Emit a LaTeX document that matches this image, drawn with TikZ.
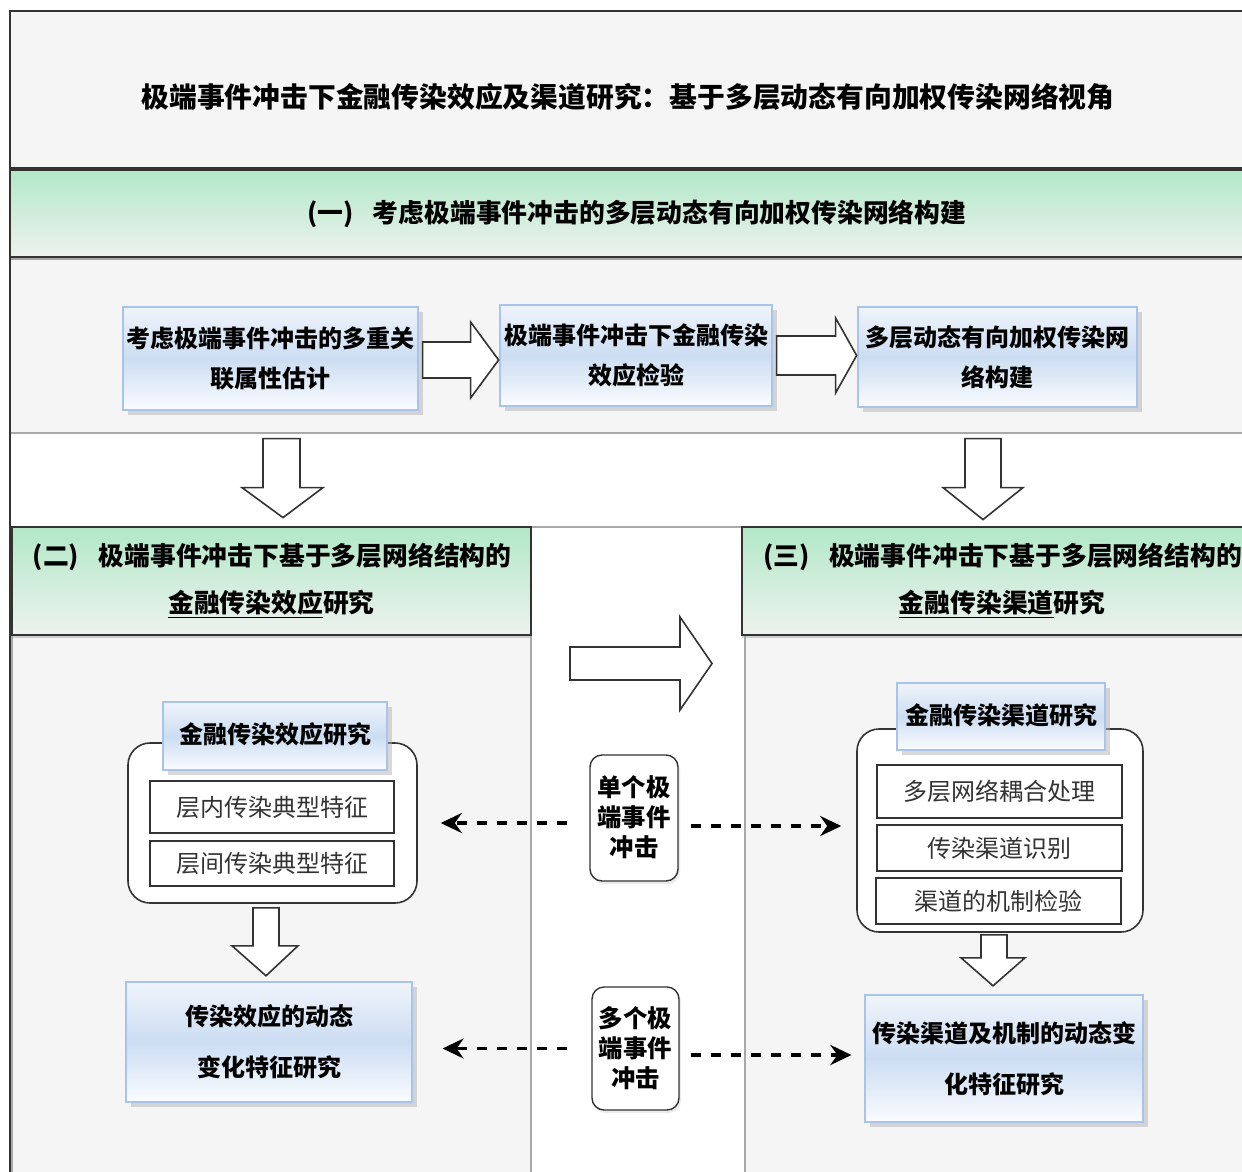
\documentclass[tikz,border=0pt]{standalone}
\usepackage{fontspec}
\setmainfont{Noto Sans CJK SC}
\usetikzlibrary{arrows.meta,calc,shadows}
\definecolor{bg}{HTML}{F5F5F5}
\definecolor{dark}{HTML}{333333}
\definecolor{pline}{HTML}{A8A8A8}
\definecolor{gtop}{HTML}{B2E8C8}
\definecolor{gbot}{HTML}{EEF2EE}
\definecolor{bltop}{HTML}{EFF4FB}
\definecolor{blmid}{HTML}{CCDDF2}
\definecolor{blbot}{HTML}{FAFCFF}
\definecolor{bledge}{HTML}{A9C4EA}
\newcommand{\secnum}[1]{\makebox[0.45em][r]{(}#1\makebox[1.15em][l]{)}}
\begin{document}
\begin{tikzpicture}[x=0.5pt,y=-0.5pt,
  gband/.style={draw=dark,line width=0.9pt,top color=gtop,bottom color=gbot,
    drop shadow={shadow xshift=0pt,shadow yshift=-1.5pt,fill=black!35},
    inner sep=0pt,align=center,font=\fontsize{12.9pt}{23.5pt}\selectfont\bfseries},
  gloss/.style={draw=bledge,line width=0.6pt,top color=bltop,bottom color=blbot,middle color=blmid,
    drop shadow={shadow xshift=2.5pt,shadow yshift=-2.5pt,fill=black!30},
    inner sep=0pt,align=center,font=\fontsize{12pt}{20pt}\selectfont\bfseries},
  group/.style={draw=dark,fill=white,rounded corners=11pt,line width=0.8pt,inner sep=0pt},
  item/.style={draw=dark,fill=white,line width=0.8pt,inner sep=0pt,text=black!80,
    font=\fontsize{12pt}{14pt}\selectfont},
  event/.style={draw=dark,fill=white,rounded corners=6pt,line width=0.7pt,inner sep=0pt,
    drop shadow={shadow xshift=1pt,shadow yshift=-1.5pt,fill=black!15},
    align=center,font=\fontsize{12.2pt}{15pt}\selectfont\bfseries},
  dasharrow/.style={line width=1.8pt,dash pattern=on 5pt off 5pt,
    -{Stealth[length=10.5pt,width=10pt,inset=3.5pt]}},
  barrow/.style={draw=dark,fill=white,line width=0.8pt,line join=miter},
  panel/.style={draw=pline,line width=0.8pt}
]
\useasboundingbox (0,0) rectangle (1242,1172);
\clip (0,0) rectangle (1242,1172);
\fill[white] (0,0) rectangle (1242,1172);

% frame and title area
\draw[dark,line width=1pt,fill=white] (10,11) rectangle (1262,1190);
\draw[dark,line width=1pt,fill=bg] (10,11) rectangle (1262,168);
\node[font=\fontsize{13.9pt}{16pt}\selectfont\bfseries] (title) at (628,97)
  {极端事件冲击下金融传染效应及渠道研究：基于多层动态有向加权传染网络视角};

% section 1
\draw[panel,fill=bg] (10,259) rectangle (1262,433);
\node[gband,minimum width=626pt,minimum height=43.5pt] (band1) at (636,213.5)
  {\secnum{一}考虑极端事件冲击的多层动态有向加权传染网络构建};

\node[gloss,minimum width=147.5pt,minimum height=51.5pt] (b1) at (270.5,358.5)
  {考虑极端事件冲击的多重关\\联属性估计};
\node[gloss,minimum width=136pt,minimum height=50.5pt] (b2) at (636,355.5)
  {极端事件冲击下金融传染\\效应检验};
\node[gloss,minimum width=139.5pt,minimum height=50pt] (b3) at (997.5,357)
  {多层动态有向加权传染网\\络构建};

\draw[barrow] ($(b1.east)+(4,-16.5)$) -- ++(48,0) -- ++(0,-20) -- ++(28,38) -- ++(-28,38) -- ++(0,-20) -- ++(-48,0) -- cycle;
\draw[barrow] ($(b2.east)+(4,-19.5)$) -- ++(59,0) -- ++(0,-18) -- ++(21,37.5) -- ++(-21,37.5) -- ++(0,-18) -- ++(-59,0) -- cycle;

% down arrows from section 1
\draw[barrow] ($(b1.south)+(-7.5,28)$) -- ++(37,0) -- ++(0,49) -- ++(23,0) -- ++(-40,30) -- ++(-41,-30) -- ++(21,0) -- cycle;
\draw[barrow] ($(b3.south)+(-32.5,31)$) -- ++(36,0) -- ++(0,49) -- ++(22,0) -- ++(-40,32) -- ++(-40,-32) -- ++(22,0) -- cycle;

% lower panels
\draw[panel,fill=bg] (12,635) rectangle (531,1190);
\draw[panel,fill=white] (531,527) rectangle (745,1190);
\draw[panel,fill=bg] (745,635) rectangle (1262,1190);

\node[gband,minimum width=259.5pt,minimum height=54pt] (band2) at (271.5,581)
  {\secnum{二}极端事件冲击下基于多层网络结构的\\\underline{金融传染效应}研究};
\node[gband,minimum width=260pt,minimum height=54pt] (band3) at (1002,581)
  {\secnum{三}极端事件冲击下基于多层网络结构的\\\underline{金融传染渠道}研究};

% middle arrow
\coordinate (ma) at (570,663.5);
\draw[barrow] ($(ma)+(0,-16.5)$) -- ++(110,0) -- ++(0,-30) -- ++(32,46.5) -- ++(-32,46.5) -- ++(0,-30) -- ++(-110,0) -- cycle;

% left group
\node[group,minimum width=144.5pt,minimum height=80pt] (lg) at (272.5,823) {};
\node[gloss,minimum width=112pt,minimum height=34pt] (lgh) at (275,736) {\raisebox{2.5pt}{金融传染效应研究}};
\node[item,minimum width=122pt,minimum height=26pt] (lg1) at (272,807) {层内传染典型特征};
\node[item,minimum width=122pt,minimum height=22.5pt] (lg2) at (272,863.5) {层间传染典型特征};
\draw[barrow] ($(lg.south)+(-19.5,4)$) -- ++(26,0) -- ++(0,38) -- ++(19,0) -- ++(-32,30) -- ++(-34,-30) -- ++(21,0) -- cycle;
\node[gloss,font=\fontsize{12pt}{25.5pt}\selectfont\bfseries,minimum width=143pt,minimum height=60pt] (lb) at (269,1042)
  {传染效应的动态\\变化特征研究};

% right group
\node[group,minimum width=143pt,minimum height=101.5pt] (rg) at (1000,830.5) {};
\node[gloss,minimum width=104pt,minimum height=33.5pt] (rgh) at (1001,716.5) {\raisebox{2pt}{金融传染渠道研究}};
\node[item,minimum width=122.5pt,minimum height=26.5pt] (rg1) at (999.5,791.5) {多层网络耦合处理};
\node[item,minimum width=122.5pt,minimum height=23pt] (rg2) at (999.5,848) {传染渠道识别};
\node[item,minimum width=122.5pt,minimum height=23pt] (rg3) at (998.5,901) {渠道的机制检验};
\draw[barrow] ($(rg.south)+(-19,2)$) -- ++(26,0) -- ++(0,23) -- ++(18,0) -- ++(-32,28) -- ++(-32,-28) -- ++(20,0) -- cycle;
\node[gloss,font=\fontsize{12pt}{25.5pt}\selectfont\bfseries,minimum width=139pt,minimum height=63.5pt] (rb) at (1004,1058.5)
  {传染渠道及机制的动态变\\化特征研究};

% events
\node[event,minimum width=44pt,minimum height=63pt] (sg) at (634,818) {\raisebox{2pt}{单个极}\\\raisebox{2pt}{端事件}\\\raisebox{2pt}{冲击}};
\node[event,minimum width=43.5pt,minimum height=61.5pt] (mg) at (635.5,1048.5) {多个极\\端事件\\冲击};

\draw[dasharrow] ($(sg.west |- lg.east)+(-22,0)$) -- ($(lg.east)+(23,0)$);
\draw[dasharrow] ($(sg.east)+(12,8)$) -- ($(rg.west)+(-15,-4.5)$);
\draw[dasharrow] ($(mg.west)+(-24,0)$) -- ($(lb.east)+(30,6.5)$);
\draw[dasharrow] ($(mg.east)+(11,6.5)$) -- ($(rb.west)+(-13,-3.5)$);

% outer left border
\draw[dark,line width=1pt] (10,11) -- (10,1190);
\end{tikzpicture}
\end{document}
